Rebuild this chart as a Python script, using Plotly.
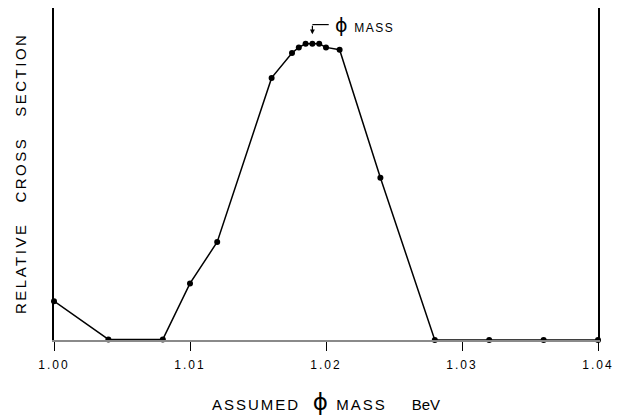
import plotly.graph_objects as go

# Assumed phi mass (BeV) and relative cross section (arbitrary units, peak = 100)
mass = [1.000, 1.004, 1.008, 1.010, 1.012, 1.016, 1.0175, 1.018, 1.0185,
        1.019, 1.0195, 1.020, 1.021, 1.024, 1.028, 1.032, 1.036, 1.040]
cross_section = [13.1, 0.2, 0.2, 19.1, 33.1, 88.5, 96.9, 98.8, 100.0,
                 100.0, 100.0, 98.8, 98.0, 54.8, 0.0, 0.0, 0.0, 0.0]
tick_vals = [1.00, 1.01, 1.02, 1.03, 1.04]
tick_text = ["1.00", "1.01", "1.02", "1.03", "1.04"]
phi_mass = 1.019

FONT = "Liberation Sans, Arial, sans-serif"
PHI = "<span style='font-family:DejaVu Sans;font-size:%dpx'>\u03d5</span>"

fig = go.Figure()
fig.add_trace(go.Scatter(
    x=mass, y=cross_section, mode="lines+markers",
    line=dict(color="black", width=1.5),
    marker=dict(color="black", size=6),
    cliponaxis=False, showlegend=False, hoverinfo="skip",
))

# L-shaped pointer to the phi mass
fig.add_shape(type="line", xref="x", yref="y",
              x0=phi_mass, x1=phi_mass + 0.0012, y0=106.5, y1=106.5,
              line=dict(color="black", width=1.2))
fig.add_annotation(x=phi_mass, y=103.2, xref="x", yref="y",
                   ax=0, ay=-10, showarrow=True, arrowhead=2, arrowsize=0.8,
                   arrowwidth=1.2, arrowcolor="black", text="")
fig.add_annotation(x=phi_mass + 0.0015, y=106.3, xref="x", yref="y",
                   xanchor="left", yanchor="middle", showarrow=False,
                   text=(PHI % 19) + "\u00a0\u00a0<span style='letter-spacing:1.5px'>MASS</span>",
                   font=dict(family=FONT, size=12, color="black"))

# Axis titles
fig.add_annotation(xref="paper", yref="paper", x=0.5, y=0, yshift=-62,
                   xanchor="center", yanchor="middle", showarrow=False,
                   text="<span style='letter-spacing:2px'>ASSUMED</span>\u00a0\u00a0\u00a0"
                        + (PHI % 23) +
                        "\u00a0\u00a0<span style='letter-spacing:2px'>MASS</span>\u00a0\u00a0\u00a0\u00a0\u00a0 BeV",
                   font=dict(family=FONT, size=15, color="black"))
fig.add_annotation(xref="paper", yref="paper", x=0, y=0.5, xshift=-34,
                   xanchor="center", yanchor="middle", showarrow=False,
                   textangle=-90,
                   text="<span style='letter-spacing:2.5px'>RELATIVE\u00a0\u00a0\u00a0CROSS\u00a0\u00a0\u00a0SECTION</span>",
                   font=dict(family=FONT, size=15, color="black"))

fig.update_layout(
    width=622, height=416,
    margin=dict(l=54, r=18, t=8, b=75.5),
    paper_bgcolor="white", plot_bgcolor="white",
    xaxis=dict(range=[1.0, 1.04], tickvals=tick_vals,
               ticktext=["<span style='letter-spacing:2px'>%s</span>" % t for t in tick_text],
               ticks="outside", ticklen=9, tickwidth=1.2, tickcolor="black",
               ticklabelstandoff=4,
               showgrid=False, zeroline=False,
               showline=True, linecolor="#8a8a8a", linewidth=1.5,
               tickfont=dict(family=FONT, size=12, color="black")),
    yaxis=dict(range=[0, 112.1], showticklabels=False, ticks="",
               showgrid=False, zeroline=False,
               showline=True, mirror=True, linecolor="black", linewidth=1.5),
)
fig.write_html("out.html")
